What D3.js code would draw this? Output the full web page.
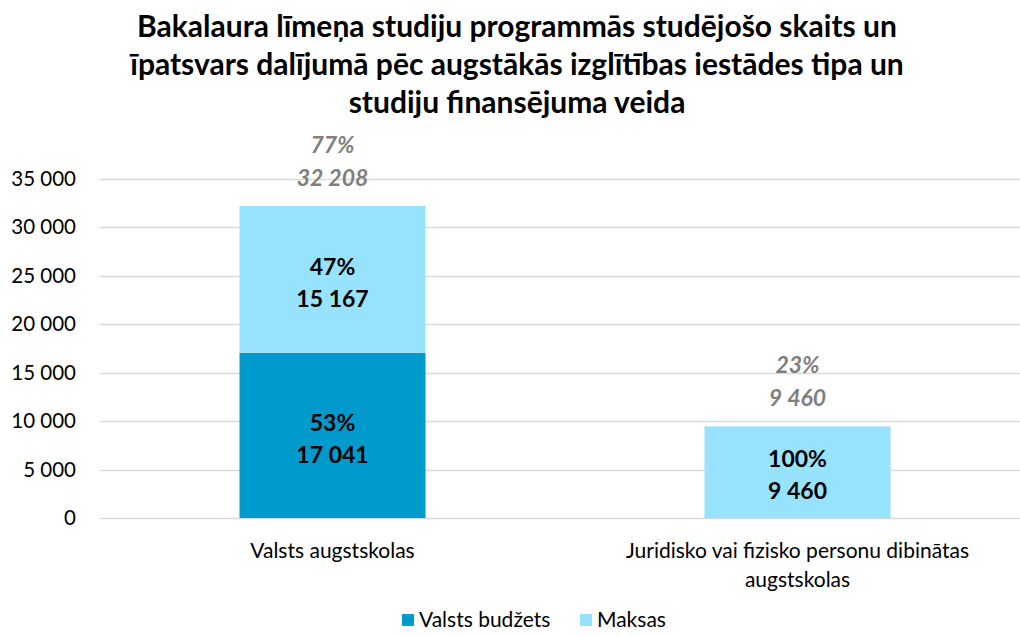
<!DOCTYPE html>
<html>
<head>
<meta charset="utf-8">
<script src="https://cdn.jsdelivr.net/npm/d3@7"></script>
<style>
  body { margin: 0; background: #fff; }
  svg { display: block; font-family: Lato, "Open Sans", sans-serif; }
</style>
</head>
<body>
<div id="chart"></div>
<script>
// data
var categories = ["Valsts augstskolas", "Juridisko vai fizisko personu dibinātas augstskolas"];
var categoryLines = [["Valsts augstskolas"], ["Juridisko vai fizisko personu dibinātas", "augstskolas"]];
var budzets = [17041, 0];
var maksas = [15167, 9460];
var segPct = [["53%", "47%"], [null, "100%"]];
var totalPct = ["77%", "23%"];
var seriesNames = ["Valsts budžets", "Maksas"];
var yTicks = [0, 5000, 10000, 15000, 20000, 25000, 30000, 35000];

var width = 1020, height = 636;
var colors = ["#009ACD", "#97E2FC"];

var svg = d3.select("#chart").append("svg")
    .attr("width", width)
    .attr("height", height);

//------------- title
var titleLines = [
  "Bakalaura līmeņa studiju programmās studējošo skaits un",
  "īpatsvars dalījumā pēc augstākās izglītības iestādes tipa un",
  "studiju finansējuma veida"
];
svg.append("g").selectAll("text")
    .data(titleLines)
    .join("text")
    .attr("x", 517)
    .attr("y", (d, i) => 37 + i * 38)
    .attr("text-anchor", "middle")
    .style("font-weight", "700")
    .style("font-size", "30px")
    .style("fill", "#000")
    .text(d => d);

//------------- scales
var x = d3.scaleBand()
    .domain(categories)
    .range([100, 1030])
    .paddingInner(0.6)
    .paddingOuter(0.3);

var y = d3.scaleLinear()
    .domain([0, 35000])
    .range([518, 179]);

var fmt = v => d3.format(",")(v).replace(/,/g, " ");

// gridlines
svg.append("g").selectAll("line")
    .data(yTicks)
    .join("line")
    .attr("x1", 100).attr("x2", 1020)
    .attr("y1", d => Math.round(y(d)) + 0.5)
    .attr("y2", d => Math.round(y(d)) + 0.5)
    .attr("stroke", "#d9d9d9")
    .attr("stroke-width", 1.5);

// y axis labels
var yAxis = d3.axisLeft(y).tickValues(yTicks).tickSize(0).tickPadding(0).tickFormat(fmt);
svg.append("g")
    .attr("transform", "translate(76,0)")
    .call(yAxis)
    .call(g => g.select(".domain").remove())
    .call(g => g.selectAll("text")
        .style("font-family", "Lato, sans-serif")
        .style("font-size", "20.5px")
        .style("fill", "#000"));

//------------- stacked bars
var rows = categories.map((c, i) => ({ cat: c, Budzets: budzets[i], Maksas: maksas[i], idx: i }));
var stack = d3.stack().keys(["Budzets", "Maksas"]);
var stacked = stack(rows);

var layers = svg.append("g").selectAll("g")
    .data(stacked)
    .join("g")
    .attr("fill", (d, i) => colors[i]);

layers.selectAll("rect")
    .data(d => d.filter(s => s[1] - s[0] > 0))
    .join("rect")
    .attr("x", d => x(d.data.cat))
    .attr("width", x.bandwidth())
    .attr("y", d => y(d[1]))
    .attr("height", d => y(d[0]) - y(d[1]));

// segment labels
stacked.forEach((layer, k) => {
  layer.forEach((s, i) => {
    if (s[1] - s[0] <= 0) return;
    var cx = x(s.data.cat) + x.bandwidth() / 2;
    var cy = (y(s[0]) + y(s[1])) / 2 + 3;
    var g = svg.append("g").attr("transform", "translate(" + cx + "," + cy + ")");
    g.append("text").attr("y", -16).attr("dy", "0.35em")
      .attr("text-anchor", "middle")
      .style("font-weight", "700").style("font-size", "23px").style("fill", "#000")
      .text(segPct[i][k]);
    g.append("text").attr("y", 16).attr("dy", "0.35em")
      .attr("text-anchor", "middle")
      .style("font-weight", "700").style("font-size", "23px").style("fill", "#000")
      .text(fmt(s[1] - s[0]));
  });
});

// totals above bars
rows.forEach((r, i) => {
  var total = r.Budzets + r.Maksas;
  var cx = x(r.cat) + x.bandwidth() / 2;
  var top = y(total);
  svg.append("text").attr("x", cx).attr("y", top - 61).attr("dy", "0.35em")
    .attr("text-anchor", "middle")
    .style("font-weight", "700").style("font-style", "italic")
    .style("font-size", "23px").style("fill", "#7f7f7f")
    .text(totalPct[i]);
  svg.append("text").attr("x", cx).attr("y", top - 28).attr("dy", "0.35em")
    .attr("text-anchor", "middle")
    .style("font-weight", "700").style("font-style", "italic")
    .style("font-size", "23px").style("fill", "#7f7f7f")
    .text(fmt(total));
});

//------------- category labels
categories.forEach((c, i) => {
  svg.append("g").selectAll("text")
    .data(categoryLines[i])
    .join("text")
    .attr("x", x(c) + x.bandwidth() / 2)
    .attr("y", (d, j) => 551 + j * 29)
    .attr("dy", "0.35em")
    .attr("text-anchor", "middle")
    .style("font-size", "21px")
    .style("fill", "#000")
    .text(d => d);
});

//------------- legend
var legend = svg.append("g").attr("transform", "translate(402,620)");
var legendX = [0, 178];
seriesNames.forEach((n, i) => {
  legend.append("rect")
    .attr("x", legendX[i]).attr("y", -6)
    .attr("width", 12).attr("height", 12)
    .attr("fill", colors[i]);
  legend.append("text")
    .attr("x", legendX[i] + 17).attr("y", 0).attr("dy", "0.35em")
    .style("font-size", "21px").style("fill", "#000")
    .text(n);
});
</script>
</body>
</html>
